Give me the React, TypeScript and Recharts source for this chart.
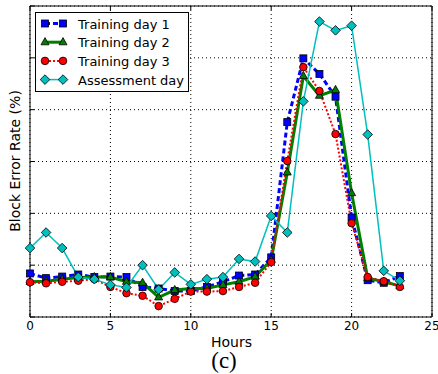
import React from "react"
import { LineChart, Line, XAxis, YAxis, CartesianGrid } from "recharts"

const hours = [0, 1, 2, 3, 4, 5, 6, 7, 8, 9, 10, 11, 12, 13, 14, 15, 16, 17, 18, 19, 20, 21, 22, 23]
const day1 = [0.84, 0.75, 0.78, 0.82, 0.77, 0.78, 0.77, 0.58, 0.55, 0.5, 0.5, 0.58, 0.68, 0.8, 0.82, 1.15, 3.76, 4.99, 4.69, 4.25, 1.92, 0.71, 0.66, 0.79]
const day2 = [0.68, 0.69, 0.73, 0.76, 0.77, 0.77, 0.68, 0.66, 0.38, 0.52, 0.55, 0.55, 0.62, 0.68, 0.78, 1.1, 2.79, 4.65, 4.27, 4.38, 2.39, 0.75, 0.68, 0.6]
const day3 = [0.67, 0.65, 0.68, 0.7, 0.73, 0.58, 0.46, 0.41, 0.21, 0.35, 0.49, 0.49, 0.5, 0.58, 0.66, 1.06, 3.01, 4.82, 4.36, 3.53, 1.81, 0.77, 0.69, 0.58]
const assess = [1.33, 1.63, 1.33, 0.77, 0.73, 0.62, 0.57, 1.0, 0.53, 0.86, 0.63, 0.73, 0.77, 1.12, 1.07, 1.95, 1.63, 4.16, 5.7, 5.53, 5.62, 3.52, 0.89, 0.7]
const xTicks = [0, 5, 10, 15, 20, 25]
const yTicks = [0, 1, 2, 3, 4, 5, 6]

const data = hours.map((h, i) => ({ h, d1: day1[i], d2: day2[i], d3: day3[i], a: assess[i] }))

const font = "DejaVu Sans"

function Square({ cx, cy, s = 7 }: any) {
  return <rect x={cx - s / 2} y={cy - s / 2} width={s} height={s} fill="#0000ff" stroke="#000" strokeWidth={0.8} />
}
function Tri({ cx, cy, s = 8 }: any) {
  const h = s * 0.9
  return <polygon points={`${cx},${cy - h / 2 - 1} ${cx - s / 2},${cy + h / 2 - 1} ${cx + s / 2},${cy + h / 2 - 1}`} fill="#008000" stroke="#000" strokeWidth={0.8} />
}
function Circ({ cx, cy, r = 3.8 }: any) {
  return <circle cx={cx} cy={cy} r={r} fill="#ff0000" stroke="#000" strokeWidth={0.8} />
}
function Diam({ cx, cy, r = 4.8 }: any) {
  return <polygon points={`${cx},${cy - r} ${cx + r},${cy} ${cx},${cy + r} ${cx - r},${cy}`} fill="#00bfbf" stroke="#000" strokeWidth={0.8} />
}

const dotOf = (Shape: any) => (p: any) => <Shape key={p.index} cx={p.cx} cy={p.cy} />
const noLabel = (p: any) => <g key={p.index} />

const legendRows = [
  { name: "Training day 1", color: "#0000ff", dash: "5 3", w: 3, M: Square },
  { name: "Training day 2", color: "#008000", dash: undefined, w: 3, M: Tri },
  { name: "Training day 3", color: "#ff0000", dash: "2 2", w: 2, M: Circ },
  { name: "Assessment day", color: "#00bfbf", dash: undefined, w: 1.5, M: Diam },
]

function LegendBox() {
  return (
    <svg width={155} height={81} style={{ position: "absolute", left: 35, top: 11.5 }}>
      <rect x={0.5} y={0.5} width={153} height={79} fill="#fff" stroke="#000" strokeWidth={1} />
      {legendRows.map((r, i) => {
        const y = 11.5 + i * 18.7
        const M = r.M
        return (
          <g key={r.name}>
            <line x1={10} x2={28} y1={y} y2={y} stroke={r.color} strokeWidth={r.w} strokeDasharray={r.dash} />
            <M cx={10} cy={y} />
            <M cx={28} cy={y} />
            <text x={43} y={y + 5} fontFamily={font} fontSize={13} fill="#000">{r.name}</text>
          </g>
        )
      })}
    </svg>
  )
}

export default function App() {
  return (
    <div style={{ position: "absolute", left: 0, top: 0, width: 438, height: 374, background: "#fff" }}>
      <LineChart width={438} height={374} data={data} margin={{ top: 5, right: 5, left: 0, bottom: 27 }}>
        <CartesianGrid stroke="#000" strokeDasharray="1 3" strokeWidth={1} />
        <XAxis dataKey="h" type="number" domain={[0, 25]} ticks={xTicks} height={30} axisLine={{ stroke: "#000" }}
          tickLine={{ stroke: "#000" }} tickSize={-4} tickMargin={8} interval={0}
          tick={{ fill: "#000", fontSize: 12, fontFamily: font }} />
        <XAxis xAxisId="top" orientation="top" dataKey="h" type="number" domain={[0, 25]} ticks={xTicks} height={1}
          axisLine={{ stroke: "#000" }} tickLine={{ stroke: "#000" }} tickSize={-4} tick={noLabel} />
        <YAxis type="number" domain={[0, 6]} ticks={yTicks} width={30} axisLine={{ stroke: "#000" }} interval={0}
          tickLine={{ stroke: "#000" }} tickSize={-4} tick={noLabel} />
        <YAxis yAxisId="r" orientation="right" type="number" domain={[0, 6]} ticks={yTicks} width={1} interval={0}
          axisLine={{ stroke: "#000" }} tickLine={{ stroke: "#000" }} tickSize={-4} tick={noLabel} />
        <Line dataKey="d1" name="Training day 1" stroke="#0000ff" strokeWidth={3} strokeDasharray="5 3" dot={dotOf(Square)} isAnimationActive={false} />
        <Line dataKey="d2" name="Training day 2" stroke="#008000" strokeWidth={3} dot={dotOf(Tri)} isAnimationActive={false} />
        <Line dataKey="d3" name="Training day 3" stroke="#ff0000" strokeWidth={2} strokeDasharray="2 2" dot={dotOf(Circ)} isAnimationActive={false} />
        <Line dataKey="a" name="Assessment day" stroke="#00bfbf" strokeWidth={1.5} dot={dotOf(Diam)} isAnimationActive={false} />
      </LineChart>
      <LegendBox />
      <svg width={438} height={374} style={{ position: "absolute", left: 0, top: 0, pointerEvents: "none" }}>
        <text x={231.5} y={347} textAnchor="middle" fontFamily={font} fontSize={14} fill="#000">Hours</text>
        <text x={224} y={368} textAnchor="middle" fontFamily="Liberation Serif" fontSize={23} fill="#000">(c)</text>
        <text transform="translate(19.5,161) rotate(-90)" textAnchor="middle" fontFamily={font} fontSize={14} fill="#000">Block Error Rate (%)</text>
      </svg>
    </div>
  )
}
